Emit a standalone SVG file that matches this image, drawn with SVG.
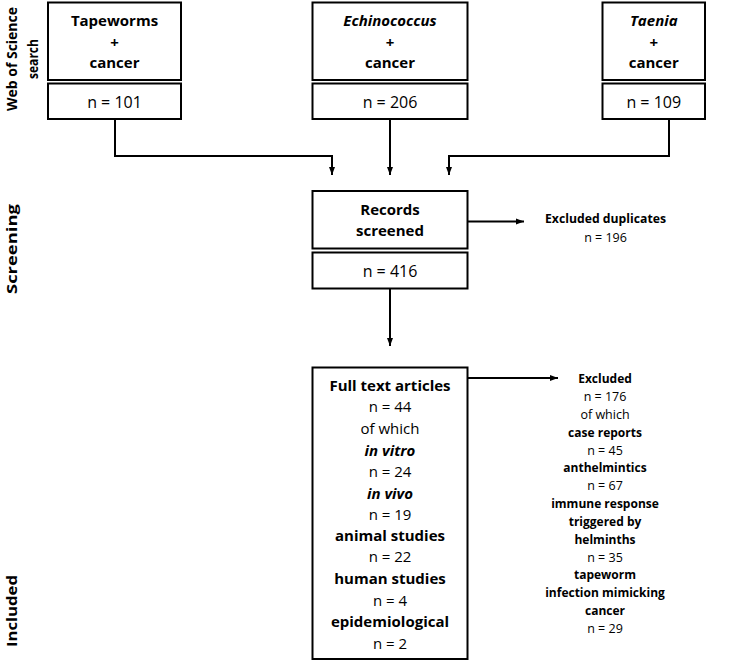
<svg xmlns="http://www.w3.org/2000/svg" width="738" height="662" viewBox="0 0 738 662">
<defs>
<marker id="ah" viewBox="0 0 8 8" refX="8" refY="4" markerWidth="8" markerHeight="8" markerUnits="userSpaceOnUse" orient="auto">
<path d="M0,1 L8,4 L0,7 Z" fill="#000"/>
</marker>
<style>
.box{fill:#fff;stroke:#000;stroke-width:2}
.t{font-family:"Open Sans","Liberation Sans",sans-serif;text-anchor:middle;fill:#000}
.b{font-weight:bold}
.i{font-style:italic}
.big{font-size:15px}
.nb{font-size:16px}
.sm{font-size:12.5px}
.smb{font-size:12px;font-weight:bold}
.lab{font-family:"Open Sans","Liberation Sans",sans-serif;font-weight:bold;font-size:15px;text-anchor:middle;fill:#000}
.con{fill:none;stroke:#000;stroke-width:2;marker-end:url(#ah)}
</style>
</defs>
<rect width="738" height="662" fill="#fff"/>

<g id="labels">
<text class="lab" transform="translate(17,59) rotate(-90)" textLength="104" lengthAdjust="spacingAndGlyphs">Web of Science</text>
<text class="lab" transform="translate(37.5,59) rotate(-90)" textLength="40" lengthAdjust="spacingAndGlyphs">search</text>
<text class="lab" transform="translate(17,249) rotate(-90)" textLength="90" lengthAdjust="spacingAndGlyphs">Screening</text>
<text class="lab" transform="translate(17,611) rotate(-90)" textLength="72" lengthAdjust="spacingAndGlyphs">Included</text>
</g>

<g id="connectors">
<path class="con" d="M115,119 V156 H332 V175"/>
<path class="con" d="M390,119 V175"/>
<path class="con" d="M669,119 V156 H449 V175"/>
<path class="con" d="M467.5,221.5 H524"/>
<path class="con" d="M390,288.5 V346"/>
<path class="con" d="M467.5,378 H558"/>
</g>

<g id="tapeworms">
<rect class="box" x="48" y="2.5" width="133" height="77.5"/>
<text class="t b big" x="114.5" y="25.5">Tapeworms</text>
<text class="t b big" x="114.5" y="48">+</text>
<text class="t b big" x="114.5" y="68">cancer</text>
</g>
<g id="tapeworms-n">
<rect class="box" x="48" y="83.5" width="133" height="35.5"/>
<text class="t nb" x="114.5" y="107.5">n = 101</text>
</g>

<g id="echinococcus">
<rect class="box" x="312.5" y="2.5" width="155" height="77.5"/>
<text class="t b i big" x="390" y="25.5">Echinococcus</text>
<text class="t b big" x="390" y="48">+</text>
<text class="t b big" x="390" y="68">cancer</text>
</g>
<g id="echinococcus-n">
<rect class="box" x="312.5" y="83.5" width="155" height="35.5"/>
<text class="t nb" x="390" y="107.5">n = 206</text>
</g>

<g id="taenia">
<rect class="box" x="602.5" y="2.5" width="102.5" height="77.5"/>
<text class="t b i big" x="653.75" y="25.5">Taenia</text>
<text class="t b big" x="653.75" y="48">+</text>
<text class="t b big" x="653.75" y="68">cancer</text>
</g>
<g id="taenia-n">
<rect class="box" x="602.5" y="83.5" width="102.5" height="35.5"/>
<text class="t nb" x="653.75" y="107.5">n = 109</text>
</g>

<g id="records">
<rect class="box" x="312.5" y="191" width="155" height="57.5"/>
<text class="t b big" x="390" y="215">Records</text>
<text class="t b big" x="390" y="236">screened</text>
</g>
<g id="records-n">
<rect class="box" x="312.5" y="252.5" width="155" height="36"/>
<text class="t nb" x="390" y="276.5">n = 416</text>
</g>

<g id="duplicates">
<text class="t smb" x="605.5" y="223" textLength="121" lengthAdjust="spacingAndGlyphs">Excluded duplicates</text>
<text class="t sm" x="605.5" y="242">n = 196</text>
</g>

<g id="fulltext">
<rect class="box" x="312.5" y="367.5" width="155" height="291.5"/>
<text class="t b big" x="390" y="390.5">Full text articles</text>
<text class="t big" x="390" y="412">n = 44</text>
<text class="t big" x="390" y="433.5">of which</text>
<text class="t b i big" x="390" y="455.5">in vitro</text>
<text class="t big" x="390" y="477">n = 24</text>
<text class="t b i big" x="390" y="498.5">in vivo</text>
<text class="t big" x="390" y="519.5">n = 19</text>
<text class="t b big" x="390" y="540.5">animal studies</text>
<text class="t big" x="390" y="562">n = 22</text>
<text class="t b big" x="390" y="584">human studies</text>
<text class="t big" x="390" y="606">n = 4</text>
<text class="t b big" x="390" y="627">epidemiological</text>
<text class="t big" x="390" y="648.5">n = 2</text>
</g>

<g id="excluded">
<text class="t smb" x="605" y="382.5">Excluded</text>
<text class="t sm" x="605" y="401">n = 176</text>
<text class="t sm" x="605" y="418.5">of which</text>
<text class="t smb" x="605" y="436.5">case reports</text>
<text class="t sm" x="605" y="454.5">n = 45</text>
<text class="t smb" x="605" y="472">anthelmintics</text>
<text class="t sm" x="605" y="490">n = 67</text>
<text class="t smb" x="605" y="508">immune response</text>
<text class="t smb" x="605" y="526">triggered by</text>
<text class="t smb" x="605" y="543.5">helminths</text>
<text class="t sm" x="605" y="561.5">n = 35</text>
<text class="t smb" x="605" y="579">tapeworm</text>
<text class="t smb" x="605" y="597">infection mimicking</text>
<text class="t smb" x="605" y="615">cancer</text>
<text class="t sm" x="605" y="633">n = 29</text>
</g>
</svg>
